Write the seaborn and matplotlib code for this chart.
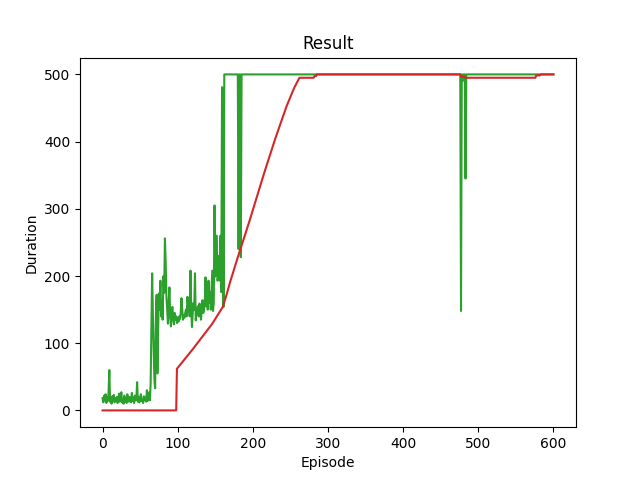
import numpy as np
import pandas as pd
import matplotlib
matplotlib.use("Agg")
import matplotlib.pyplot as plt
import seaborn as sns

green = "#2ca02c"
red = "#d62728"

# episode durations 0..64 (random exploration)
early_durations = [18, 12, 22, 15, 24, 11, 19, 14, 26, 60,
                   13, 17, 10, 21, 15, 23, 12, 18, 14, 20,
                   11, 16, 25, 13, 19, 27, 12, 17, 10, 22,
                   14, 18, 11, 24, 15, 13, 20, 16, 12, 26,
                   14, 19, 11, 22, 15, 17, 42, 13, 20, 12,
                   18, 24, 14, 16, 11, 21, 15, 19, 13, 30,
                   14, 17, 27, 15, 40]

# episode durations 65..185 (learning)
learning_durations = [120, 204, 140, 90, 45, 33, 144, 172, 55, 120,
                      174, 150, 193, 140, 164, 135, 200, 175, 256, 221,
                      170, 150, 129, 160, 183, 140, 125, 150, 154, 135,
                      128, 145, 135, 140, 130, 138, 132, 140, 136, 145,
                      167, 150, 135, 142, 138, 145, 150, 140, 169, 155,
                      150, 140, 208, 150, 124, 145, 160, 150, 204, 134,
                      145, 150, 155, 140, 159, 148, 135, 150, 164, 145,
                      150, 160, 198, 155, 170, 150, 193, 160, 176, 150,
                      180, 208, 148, 160, 305, 199, 230, 260, 193, 200,
                      230, 193, 260, 176, 481, 470, 154, 500, 500, 500,
                      500, 500, 500, 500, 500, 500, 500, 500, 500, 500,
                      500, 500, 500, 500, 500, 500, 240, 500, 500, 228,
                      500]

# after 185 the episodes hit the 500 cap, apart from two dips
tail_episodes = [476, 477, 478, 479, 480, 482, 483, 484, 600]
tail_durations = [500, 148, 500, 490, 500, 500, 345, 500, 500]

# 100 episode running mean
mean_episodes = [0, 98, 99, 120, 146, 160, 165, 170, 180, 195, 215, 230, 245,
                 255, 262, 281, 282, 284, 285, 476, 477, 482, 483, 576, 577,
                 582, 583, 600]
mean_values = [0, 0, 62, 91, 129, 154, 172, 192, 228, 280, 353, 405, 453,
               480, 495, 495, 497.5, 497.5, 500, 500, 496.5, 496.5, 495, 495,
               498.5, 498.5, 500, 500]

durations = early_durations + learning_durations
episodes = list(range(len(durations))) + tail_episodes
durations = durations + tail_durations

fig, ax = plt.subplots(figsize=(6.4, 4.8), dpi=100)
sns.lineplot(x=episodes, y=durations, color=green, linewidth=1.5, ax=ax)
sns.lineplot(x=mean_episodes, y=mean_values, color=red, linewidth=1.5, ax=ax)
ax.set_title("Result")
ax.set_xlabel("Episode")
ax.set_ylabel("Duration")
plt.savefig("out.png", dpi=100)
plt.close()
